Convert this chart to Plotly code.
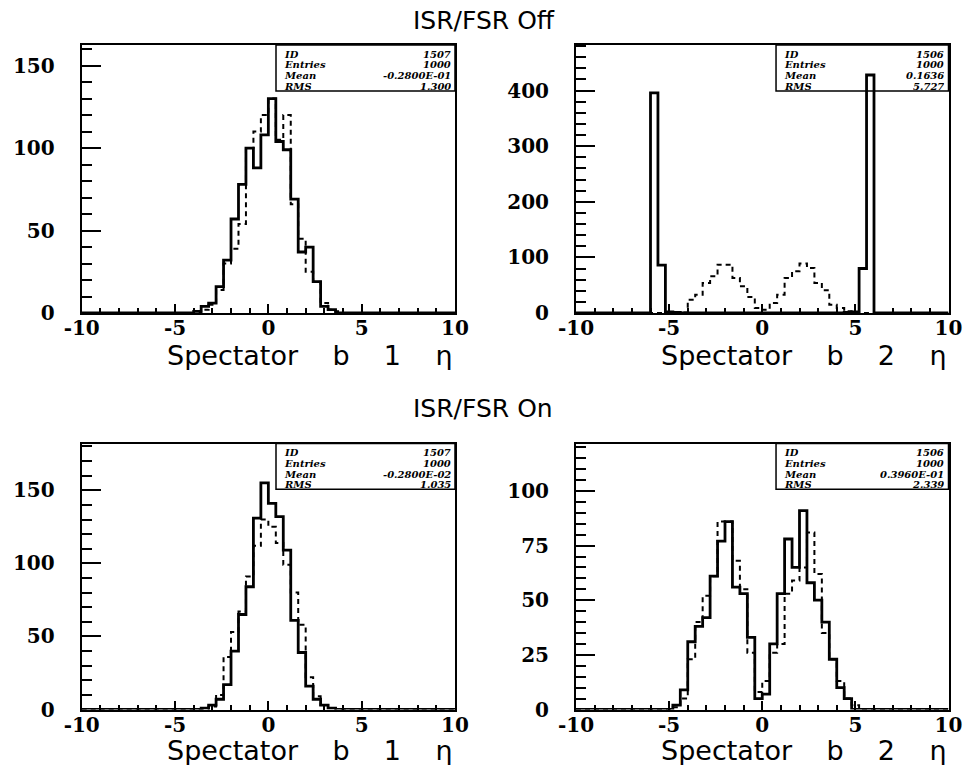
import numpy as np
import plotly.graph_objects as go

# ---------------- data ----------------
# 50 bins of width 0.4 from -10 to 10
BIN_LO, BIN_HI, NBINS = -10.0, 10.0, 50

tl_solid = [0, 0, 0, 0, 0, 0, 0, 0, 0, 0,
            0, 0, 0, 0, 0, 1, 4, 6, 16, 32,
            57, 78, 100, 88, 108, 130, 104, 99, 69, 37,
            40, 19, 4, 2, 0, 0, 0, 0, 0, 0,
            0, 0, 0, 0, 0, 0, 0, 0, 0, 0]
tl_dashed = [0, 0, 0, 0, 0, 0, 0, 0, 0, 0,
             0, 0, 0, 0, 0, 0, 2, 5, 14, 30,
             39, 54, 100, 110, 120, 130, 105, 120, 66, 45,
             25, 19, 6, 2, 1, 0, 0, 0, 0, 0,
             0, 0, 0, 0, 0, 0, 0, 0, 0, 0]
tr_solid = [0, 0, 0, 0, 0, 0, 0, 0, 0, 0,
            396, 86, 2, 1, 0, 0, 0, 0, 0, 0,
            0, 0, 0, 0, 0, 0, 0, 0, 0, 0,
            0, 0, 0, 0, 0, 0, 1, 2, 80, 428,
            0, 0, 0, 0, 0, 0, 0, 0, 0, 0]
tr_dashed = [0, 0, 0, 0, 0, 0, 0, 0, 0, 0,
             0, 0, 0, 1, 1, 24, 33, 54, 66, 87,
             87, 63, 48, 29, 9, 6, 18, 33, 63, 75,
             89, 81, 54, 41, 15, 9, 3, 1, 0, 0,
             0, 0, 0, 0, 0, 0, 0, 0, 0, 0]
bl_solid = [0, 0, 0, 0, 0, 0, 0, 0, 0, 0,
            0, 0, 0, 0, 0, 0, 1, 3, 7, 17,
            40, 65, 84, 131, 155, 141, 132, 109, 61, 39,
            16, 7, 3, 1, 0, 0, 0, 0, 0, 0,
            0, 0, 0, 0, 0, 0, 0, 0, 0, 0]
bl_dashed = [0, 0, 0, 0, 0, 0, 0, 0, 0, 0,
             0, 0, 0, 0, 0, 0, 0, 2, 10, 36,
             53, 67, 91, 112, 130, 125, 114, 99, 80, 58,
             22, 9, 3, 1, 0, 0, 0, 0, 0, 0,
             0, 0, 0, 0, 0, 0, 0, 0, 0, 0]
br_solid = [0, 0, 0, 0, 0, 0, 0, 0, 0, 0,
            0, 0, 0, 2, 9, 31, 38, 42, 61, 77,
            86, 56, 53, 33, 5, 7, 30, 53, 78, 65,
            91, 58, 50, 40, 23, 10, 5, 0, 0, 0,
            0, 0, 0, 0, 0, 0, 0, 0, 0, 0]
br_dashed = [0, 0, 0, 0, 0, 0, 0, 0, 0, 0,
             0, 0, 0, 1, 5, 23, 40, 52, 61, 86,
             86, 68, 55, 26, 8, 13, 26, 30, 53, 59,
             65, 81, 62, 35, 23, 13, 5, 2, 0, 0,
             0, 0, 0, 0, 0, 0, 0, 0, 0, 0]

X_TICKS = [-10, -5, 0, 5, 10]
X_LABELS = ["-10", "-5", "0", "5", "10"]
X_MINOR = list(range(-10, 11))

tl_yticks = [0, 50, 100, 150]
tr_yticks = [0, 100, 200, 300, 400]
bl_yticks = [0, 50, 100, 150]
br_yticks = [0, 25, 50, 75, 100]

STAT_KEYS = ["ID", "Entries", "Mean", "RMS"]
tl_stats = ["1507", "1000", "-0.2800E-01", "1.300"]
tr_stats = ["1506", "1000", "0.1636", "5.727"]
bl_stats = ["1507", "1000", "-0.2800E-02", "1.035"]
br_stats = ["1506", "1000", "0.3960E-01", "2.339"]

TITLES = ["ISR/FSR Off", "ISR/FSR On"]
XTITLES = ["Spectator    b    1    \u03b7", "Spectator    b    2    \u03b7"]

# ---------------- figure ----------------
W, H = 967, 766
edges = np.linspace(BIN_LO, BIN_HI, NBINS + 1)

def px_x(a, b):
    return [a / W, b / W]

def px_y(top, bottom):
    return [(H - bottom) / H, (H - top) / H]

panels = [
    dict(solid=tl_solid, dashed=tl_dashed, dx=px_x(81.7, 455), dy=px_y(45, 313),
         yr=[0, 162.5], yt=tl_yticks, ym=10, stats=tl_stats, box=0.5205, xt=XTITLES[0], toff=42),
    dict(solid=tr_solid, dashed=tr_dashed, dx=px_x(576, 948.5), dy=px_y(45, 313),
         yr=[0, 482], yt=tr_yticks, ym=20, stats=tr_stats, box=0.537, xt=XTITLES[1], toff=42),
    dict(solid=bl_solid, dashed=bl_dashed, dx=px_x(81.7, 455), dy=px_y(443.5, 709.5),
         yr=[0, 182], yt=bl_yticks, ym=10, stats=bl_stats, box=0.5205, xt=XTITLES[0], toff=40.5),
    dict(solid=br_solid, dashed=br_dashed, dx=px_x(576, 948.5), dy=px_y(443.5, 709.5),
         yr=[0, 121.7], yt=br_yticks, ym=5, stats=br_stats, box=0.537, xt=XTITLES[1], toff=40.5),
]

fig = go.Figure()
tickfont = dict(family="DejaVu Serif", size=20, color="black", weight="bold")
statfont = dict(family="DejaVu Serif", size=10, color="black", weight="bold", style="italic")
shapes, annotations = [], []

for k, p in enumerate(panels):
    sfx = "" if k == 0 else str(k + 1)
    xa, ya = "x" + sfx, "y" + sfx
    for series, dash, lw in ((p["dashed"], "5px,4px", 2), (p["solid"], "solid", 2.8)):
        fig.add_trace(go.Scatter(
            x=edges, y=list(series) + [series[-1]], mode="lines",
            line=dict(shape="hv", color="black", width=lw, dash=dash),
            xaxis=xa, yaxis=ya, hoverinfo="skip", showlegend=False))
    fig.layout["xaxis" + sfx] = dict(
        domain=p["dx"], range=[-10, 10], anchor=ya, showline=True, linecolor="black",
        linewidth=2, mirror=True, ticks="inside", ticklen=9, tickwidth=1.5, tickcolor="black",
        tickmode="array", tickvals=X_TICKS, ticktext=X_LABELS, automargin=False,
        ticklabelstandoff=-4,
        minor=dict(ticks="inside", ticklen=5, tickwidth=1.5, tickcolor="black", tickvals=X_MINOR),
        showgrid=False, zeroline=False, tickfont=tickfont, fixedrange=True)
    ymin_ticks = list(np.arange(0, p["yr"][1], p["ym"]))
    fig.layout["yaxis" + sfx] = dict(
        domain=p["dy"], range=p["yr"], anchor=xa, showline=True, linecolor="black",
        linewidth=2, mirror=True, ticks="inside", ticklen=19, tickwidth=1.5, tickcolor="black",
        tickmode="array", tickvals=p["yt"], ticktext=[str(v) for v in p["yt"]], automargin=False,
        minor=dict(ticks="inside", ticklen=10, tickwidth=1.5, tickcolor="black", tickvals=ymin_ticks),
        showgrid=False, zeroline=False, tickfont=tickfont, ticklabelstandoff=21, fixedrange=True)
    # stats box
    shapes.append(dict(type="rect", xref=xa + " domain", yref=ya + " domain",
                       x0=p["box"], x1=1, y0=0.828, y1=1,
                       line=dict(color="black", width=1.5), fillcolor="rgba(0,0,0,0)"))
    offs = [8.5, 19.3, 30, 40.7]
    hpx = (p["dy"][1] - p["dy"][0]) * H
    wpx = (p["dx"][1] - p["dx"][0]) * W
    for key, val, o in zip(STAT_KEYS, p["stats"], offs):
        yy = 1 - o / hpx
        annotations.append(dict(xref=xa + " domain", yref=ya + " domain", x=p["box"] + 5.5 / wpx, y=yy,
                                text=key, showarrow=False, xanchor="left", yanchor="middle",
                                height=10.4, valign="middle", font=statfont))
        annotations.append(dict(xref=xa + " domain", yref=ya + " domain", x=1 - 2.5 / wpx, y=yy,
                                text=val, showarrow=False, xanchor="right", yanchor="middle",
                                height=10.4, valign="middle", font=statfont))
    # x-axis title (right aligned like PAW)
    annotations.append(dict(xref=xa + " domain", yref=ya + " domain", x=1.0, y=-p["toff"] / hpx,
                            text=p["xt"], showarrow=False, xanchor="right", yanchor="middle",
                            height=30, valign="middle",
                            font=dict(family="DejaVu Sans", size=27, color="black")))

annotations.append(dict(xref="paper", yref="paper", x=411 / W, y=1 - 20 / H, text=TITLES[0],
                        showarrow=False, xanchor="left", yanchor="middle",
                        font=dict(family="DejaVu Sans", size=25, color="black")))
annotations.append(dict(xref="paper", yref="paper", x=411 / W, y=1 - 408 / H, text=TITLES[1],
                        showarrow=False, xanchor="left", yanchor="middle",
                        font=dict(family="DejaVu Sans", size=25, color="black")))

fig.update_layout(width=W, height=H, margin=dict(l=0, r=0, t=0, b=0, pad=0, autoexpand=False),
                  paper_bgcolor="white", plot_bgcolor="white", showlegend=False,
                  shapes=shapes, annotations=annotations)

fig.write_html("out.html")
